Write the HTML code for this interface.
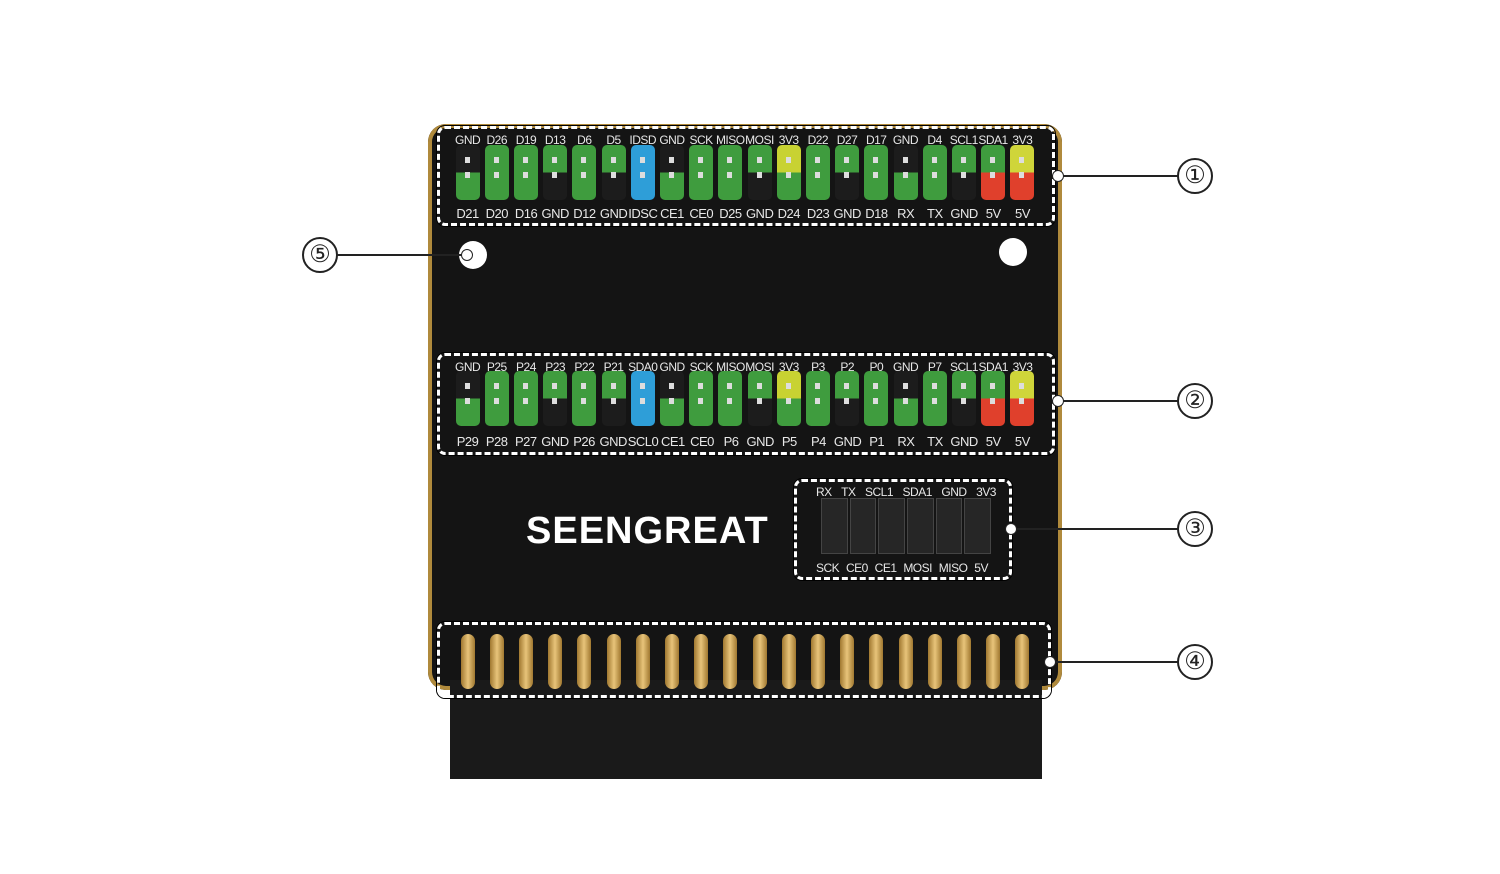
<!DOCTYPE html><html><head><style>
body{margin:0;width:1500px;height:874px;background:#fff;position:relative;overflow:hidden;font-family:"Liberation Sans",sans-serif}
.a{position:absolute}
.board{left:428px;top:124px;width:634px;height:566px;background:#141414;border-radius:18px;box-shadow:inset 0 0 0 4px #b08a3c}
.tail{left:450px;top:680px;width:592px;height:99px;background:#1a1a1a}
.dash{position:absolute;border:3px dashed #fff;border-radius:8px;box-shadow:0 0 0 1px #000}
.row{position:absolute;left:453px;width:584px;display:flex}
.row div{flex:1;text-align:center}
.lab{color:#e8e8e8;font-size:12px;letter-spacing:-0.5px}
.j div{display:flex;justify-content:center}
.j span{display:block;width:24px;height:55px;border-radius:5px;position:relative}
.j span:after{content:"";position:absolute;left:9px;top:12px;width:5px;height:6px;background:#ddd;box-shadow:0 15px 0 #ddd}
.g{background:#3f9c3e}.k{background:#1c1c1c}.b{background:#2e9ed8}
.gk{background:linear-gradient(#3f9c3e 50%,#1c1c1c 50%)}.kg{background:linear-gradient(#1c1c1c 50%,#3f9c3e 50%)}
.yg{background:linear-gradient(#c8d232 50%,#3f9c3e 50%)}.gr{background:linear-gradient(#3f9c3e 50%,#e0402c 50%)}
.yr{background:linear-gradient(#cfd53a 50%,#e0402c 50%)}
.circ{position:absolute;width:32px;height:32px;border:2px solid #222;border-radius:50%;text-align:center;line-height:32px;font-size:24px;color:#222;background:#fff}
.line{position:absolute;height:2px;background:#222}
.dot{position:absolute;width:10px;height:10px;border-radius:50%;background:#fff;border:1px solid #222}
.hole{position:absolute;width:28px;height:28px;border-radius:50%;background:#fff}
.gp div{display:flex;justify-content:center}
.gp span{display:block;width:14px;height:55px;border-radius:7px;background:linear-gradient(90deg,#a07830,#e8c47a,#a07830)}
.hp{position:absolute;left:820px;top:498px;width:172px;height:56px;display:flex}
.hp div{flex:1;margin:0 1px;background:#262626;border:1px solid #444}
</style></head><body>
<div class="a board"></div><div class="a tail"></div>
<div class="hole" style="left:459px;top:241px"></div>
<div class="hole" style="left:999px;top:238px"></div>

<div class="row lab" style="top:133px"><div>GND</div><div>D26</div><div>D19</div><div>D13</div><div>D6</div><div>D5</div><div>IDSD</div><div>GND</div><div>SCK</div><div>MISO</div><div>MOSI</div><div>3V3</div><div>D22</div><div>D27</div><div>D17</div><div>GND</div><div>D4</div><div>SCL1</div><div>SDA1</div><div>3V3</div></div>
<div class="row j" style="top:145px"><div><span class="kg"></span></div><div><span class="g"></span></div><div><span class="g"></span></div><div><span class="gk"></span></div><div><span class="g"></span></div><div><span class="gk"></span></div><div><span class="b"></span></div><div><span class="kg"></span></div><div><span class="g"></span></div><div><span class="g"></span></div><div><span class="gk"></span></div><div><span class="yg"></span></div><div><span class="g"></span></div><div><span class="gk"></span></div><div><span class="g"></span></div><div><span class="kg"></span></div><div><span class="g"></span></div><div><span class="gk"></span></div><div><span class="gr"></span></div><div><span class="yr"></span></div></div>
<div class="row lab" style="top:206px;font-size:13px"><div>D21</div><div>D20</div><div>D16</div><div>GND</div><div>D12</div><div>GND</div><div>IDSC</div><div>CE1</div><div>CE0</div><div>D25</div><div>GND</div><div>D24</div><div>D23</div><div>GND</div><div>D18</div><div>RX</div><div>TX</div><div>GND</div><div>5V</div><div>5V</div></div>

<div class="row lab" style="top:360px"><div>GND</div><div>P25</div><div>P24</div><div>P23</div><div>P22</div><div>P21</div><div>SDA0</div><div>GND</div><div>SCK</div><div>MISO</div><div>MOSI</div><div>3V3</div><div>P3</div><div>P2</div><div>P0</div><div>GND</div><div>P7</div><div>SCL1</div><div>SDA1</div><div>3V3</div></div>
<div class="row j" style="top:371px"><div><span class="kg"></span></div><div><span class="g"></span></div><div><span class="g"></span></div><div><span class="gk"></span></div><div><span class="g"></span></div><div><span class="gk"></span></div><div><span class="b"></span></div><div><span class="kg"></span></div><div><span class="g"></span></div><div><span class="g"></span></div><div><span class="gk"></span></div><div><span class="yg"></span></div><div><span class="g"></span></div><div><span class="gk"></span></div><div><span class="g"></span></div><div><span class="kg"></span></div><div><span class="g"></span></div><div><span class="gk"></span></div><div><span class="gr"></span></div><div><span class="yr"></span></div></div>
<div class="row lab" style="top:434px;font-size:13px"><div>P29</div><div>P28</div><div>P27</div><div>GND</div><div>P26</div><div>GND</div><div>SCL0</div><div>CE1</div><div>CE0</div><div>P6</div><div>GND</div><div>P5</div><div>P4</div><div>GND</div><div>P1</div><div>RX</div><div>TX</div><div>GND</div><div>5V</div><div>5V</div></div>

<div class="a" style="left:526px;top:510px;color:#fff;font-size:38px;font-weight:bold;letter-spacing:1px">SEENGREAT</div>
<div class="a lab" style="left:816px;top:485px;width:180px;display:flex;justify-content:space-between"><span>RX</span><span>TX</span><span>SCL1</span><span>SDA1</span><span>GND</span><span>3V3</span></div>
<div class="hp"><div></div><div></div><div></div><div></div><div></div><div></div></div>
<div class="a lab" style="left:816px;top:561px;width:172px;display:flex;justify-content:space-between"><span>SCK</span><span>CE0</span><span>CE1</span><span>MOSI</span><span>MISO</span><span>5V</span></div>

<div class="row gp" style="top:634px"><div><span></span></div><div><span></span></div><div><span></span></div><div><span></span></div><div><span></span></div><div><span></span></div><div><span></span></div><div><span></span></div><div><span></span></div><div><span></span></div><div><span></span></div><div><span></span></div><div><span></span></div><div><span></span></div><div><span></span></div><div><span></span></div><div><span></span></div><div><span></span></div><div><span></span></div><div><span></span></div></div>

<div class="dash" style="left:437px;top:126px;width:612px;height:94px"></div>
<div class="dash" style="left:437px;top:353px;width:612px;height:96px"></div>
<div class="dash" style="left:794px;top:479px;width:212px;height:95px"></div>
<div class="dash" style="left:437px;top:622px;width:608px;height:70px"></div>

<div class="line" style="left:1058px;top:175px;width:120px"></div><div class="dot" style="left:1052px;top:170px"></div><div class="circ" style="left:1177px;top:158px">①</div>
<div class="line" style="left:1058px;top:400px;width:120px"></div><div class="dot" style="left:1052px;top:395px"></div><div class="circ" style="left:1177px;top:383px">②</div>
<div class="line" style="left:1012px;top:528px;width:166px"></div><div class="dot" style="left:1005px;top:523px"></div><div class="circ" style="left:1177px;top:511px">③</div>
<div class="line" style="left:1050px;top:661px;width:128px"></div><div class="dot" style="left:1044px;top:656px"></div><div class="circ" style="left:1177px;top:644px">④</div>
<div class="line" style="left:336px;top:254px;width:130px"></div><div class="dot" style="left:461px;top:249px"></div><div class="circ" style="left:302px;top:237px">⑤</div>
</body></html>
